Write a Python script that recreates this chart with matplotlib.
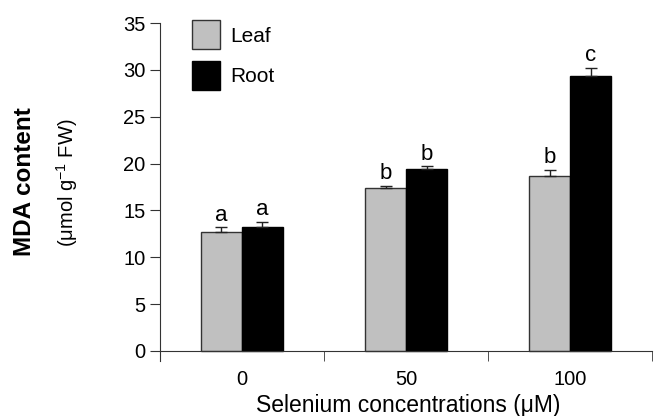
import matplotlib
matplotlib.use("Agg")
import matplotlib.pyplot as plt
import numpy as np

plt.rcParams['font.family'] = ['Liberation Sans', 'DejaVu Sans']

# data
conc = ["0", "50", "100"]
leaf = [12.7, 17.4, 18.7]
leaf_err = [0.5, 0.25, 0.65]
root = [13.2, 19.45, 29.3]
root_err = [0.6, 0.25, 0.95]
leaf_letters = ["a", "b", "b"]
root_letters = ["a", "b", "c"]

fig = plt.figure(figsize=(6.54, 4.16), dpi=100)
ax = fig.add_axes([0.2446, 0.1322, 0.9970 - 0.2446, 0.9447 - 0.1322])

x = np.arange(len(conc))
w = 0.25
ekw = dict(elinewidth=1, capthick=1, ecolor="#222222")
ax.bar(x - w / 2, leaf, w, color="#c0c0c0", edgecolor="#333333", linewidth=1,
       yerr=[np.zeros(3), leaf_err], capsize=4.5, error_kw=ekw, label="Leaf")
ax.bar(x + w / 2, root, w, color="black", edgecolor="black", linewidth=1,
       yerr=[np.zeros(3), root_err], capsize=4.5, error_kw=ekw, label="Root")

for i in range(len(conc)):
    ax.annotate(leaf_letters[i], (x[i] - w / 2, leaf[i] + leaf_err[i]),
                xytext=(0, 1), textcoords="offset points",
                ha="center", va="bottom", fontsize=16)
    ax.annotate(root_letters[i], (x[i] + w / 2, root[i] + root_err[i]),
                xytext=(0, 1), textcoords="offset points",
                ha="center", va="bottom", fontsize=16)

ax.set_xlim(-0.5, 2.5)
ax.set_ylim(-1.07, 35)
ax.set_yticks(range(0, 36, 5))
ax.spines["top"].set_visible(False)
ax.spines["right"].set_visible(False)
ax.spines["bottom"].set_position(("data", 0))
ax.spines["left"].set_color("#333333")
ax.spines["bottom"].set_color("#333333")

ax.set_xticks(x)
ax.set_xticklabels(conc)
ax.set_xticks([-0.5, 0.5, 1.5, 2.5], minor=True)
ax.tick_params(axis="x", which="major", length=0, pad=14, labelsize=14.5)
ax.tick_params(axis="x", which="minor", length=7, direction="out", color="#333333")
ax.tick_params(axis="y", length=7, direction="out", labelsize=14.5, color="#333333")

fig.text(0.624, 0.026, "Selenium concentrations (\u03bcM)", ha="center", va="center",
         fontsize=16.5)
fig.text(0.038, 0.5625, "MDA content", rotation=90, ha="center", va="center",
         fontsize=17.5, fontweight="bold")
fig.text(0.102, 0.56, "(\u03bcmol g$^{\\mathregular{-1}}$ FW)", rotation=90,
         ha="center", va="center", fontsize=14.5)

ax.legend(loc="upper left", bbox_to_anchor=(0.028, 1.063), frameon=False,
          fontsize=15, handlelength=1.3, handleheight=1.75, labelspacing=0.55,
          handletextpad=0.5)

fig.savefig("out.png", dpi=100)
